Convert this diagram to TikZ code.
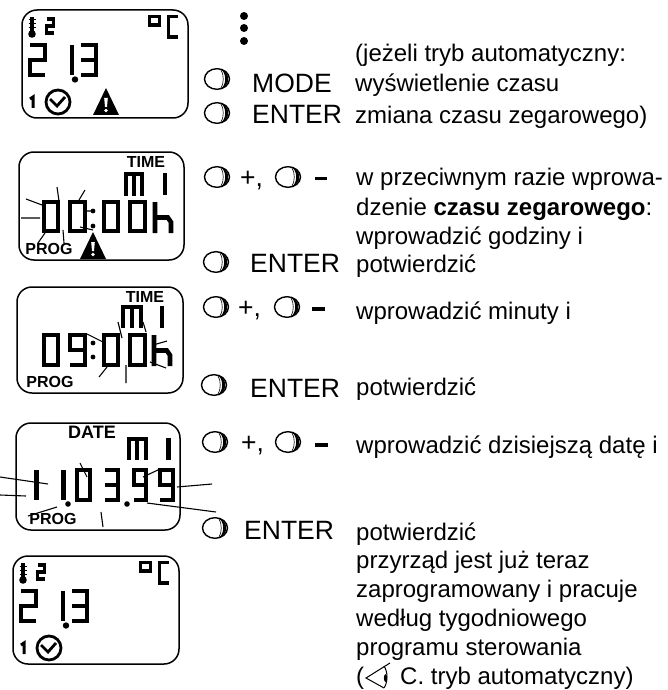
\documentclass[tikz,border=0pt]{standalone}
\usepackage{fontspec}
\setmainfont{Liberation Sans}
\newcommand\tsize{\fontsize{24}{28}\selectfont}
\newcommand\ksize{\fontsize{26.5}{30}\selectfont}
\def\dzero{(0,0)--(1,0)--(1,1)--(0,1)--cycle}
\def\done{(1,0)--(1,1)}
\def\dtwo{(0,0)--(1,0)--(1,.5)--(0,.5)--(0,1)--(1,1)}
\def\dthree{(0,0)--(1,0)--(1,1)--(0,1) (0,.5)--(1,.5)}
\def\dnine{(1,.5)--(0,.5)--(0,0)--(1,0)--(1,1)--(0,1)}
\def\dh{(0,0)--(0,1) (0,.5)--(.8,.5)--(1,.65)--(1,1)}
\def\dm{(0,1)--(0,0)--(1,0)--(1,1) (.5,0)--(.5,1)}
% x, y, w, h of the digit's top-left centre-line box, then the path
\newcommand\lcd[6][4.6]{\begin{scope}[shift={(#2,#3)},x=#4pt,y=-#5pt]\draw[line width=#1pt,line join=miter] #6;\end{scope}}
\newcommand\btn[2]{\begin{scope}[shift={(#1,#2)}]
\draw[line width=1.4pt] (0,0) ellipse (12.5 and 10.3);
\fill (3,-10) .. controls (10,-7) and (10,7) .. (3,10) .. controls (14,8) and (14,-8) .. (3,-10);
\draw[line width=.6pt] (4,-9) .. controls (7,-5) and (7,5) .. (4,9);
\end{scope}}
\newcommand\warn[2]{\begin{scope}[shift={(#1,#2)}]
\fill (0,0)--(13,27)--(-13,27)--cycle;
\fill[white] (-1.8,10)--(1.8,10)--(1,19)--(-1,19)--cycle;
\fill[white] (0,22.5) circle (1.9);
\end{scope}}
\newcommand\tempscreen[2]{\begin{scope}[shift={(#1,#2)}]
\draw[screen] (0,0) rectangle (166,108);
\draw[line width=3.2pt] (10,7)--(10,22);
\fill (10,24) circle (3.8);
\draw[line width=1pt] (6.5,10)--(13.5,10) (6.5,14)--(13.5,14) (6.5,18)--(13.5,18);
\lcd[3.4]{24.5}{9}{7}{14}{\dtwo}
\draw[line width=3.6pt] (127.5,6.5) rectangle (137.5,15);
\draw[line width=3.6pt] (156,6.5)--(146.5,6.5)--(146.5,27)--(156,27);
\lcd{8}{35}{15}{30}{\dtwo}
\lcd{33}{35}{17}{30}{\done}
\fill (53,69.5) circle (3.2);
\lcd{59}{35}{15}{30}{\dthree}
\draw[line width=3pt] (8,89)--(11,87)--(11,98);
\draw[line width=2.8pt] (36,92) circle (12);
\draw[line width=2.8pt] (28,89)--(35,96)--(43,87);
\end{scope}}
\tikzset{
  screen/.style={line width=1.5pt,rounded corners=15pt},
  tick/.style={line width=1.1pt},
  body/.style={anchor=base west,inner sep=0pt,font=\tsize},
  key/.style={anchor=base west,inner sep=0pt,font=\ksize},
  lcdword/.style={inner sep=0pt,font=\bfseries\fontsize{16}{18}\selectfont}
}
\begin{document}
\begin{tikzpicture}[x=1pt,y=-1pt]
\useasboundingbox (0,0) rectangle (667,690);
% screen 1
\tempscreen{22}{10}
\warn{106}{88}
% dots
\fill (244,16) circle (4) (244,28) circle (4) (244,41) circle (4);
% screen 2
\draw[screen] (19,152) rectangle (184,260);
\node[lcdword] (time1) at (146,161.5) {TIME};
\lcd[4]{125.5}{173.5}{16}{22}{\dm}
\lcd{165}{173}{0}{22}{(0,0)--(0,1)}
\lcd{44}{202}{14}{29}{\dzero}
\lcd{70}{202}{15}{29}{\dzero}
\fill (93,211) circle (2.4) (93,226) circle (2.4);
\lcd{104}{202}{14}{29}{\dzero}
\lcd{130}{202}{15}{29}{\dzero}
\lcd{155}{202}{16}{31}{\dh}
\node[lcdword] (prog1) at (49,249) {PROG};
\warn{93}{232}
\draw[tick] (26,199)--(42,205) (21,218)--(40,218) (57,187)--(59,201) (85,190)--(79,200)
 (92,211)--(87,211) (45,233)--(38,243) (63,230)--(64,243) (80,227)--(93,230);
% screen 3
\draw[screen] (17,287) rectangle (183,393);
\node[lcdword] (time2) at (145,296.5) {TIME};
\lcd[4]{123}{307}{18}{21}{\dm}
\lcd{162}{306}{0}{22}{(0,0)--(0,1)}
\lcd{44}{335}{14}{30}{\dzero}
\lcd{70}{335}{15}{30}{\dnine}
\fill (93,343) circle (2.4) (93,357) circle (2.4);
\lcd{104}{335}{14}{30}{\dzero}
\lcd{130}{335}{15}{30}{\dzero}
\lcd{154}{335}{16}{31}{\dh}
\node[lcdword] (prog2) at (50,382) {PROG};
\draw[tick] (87,334)--(105,343) (118,322)--(122,338) (143,322)--(146,332) (167,341)--(153,345)
 (150,362)--(166,368) (107,367)--(99,377) (126,365)--(126,383);
% screen 4
\draw[screen] (16,423) rectangle (180,530);
\node[lcdword,font=\bfseries\fontsize{18}{20}\selectfont] (date) at (92,432) {DATE};
\lcd[4]{128.5}{439}{17}{21}{\dm}
\lcd{168.5}{438}{0}{22}{(0,0)--(0,1)}
\lcd{36.5}{470}{0}{30}{(0,0)--(0,1)}
\lcd{63.5}{470}{0}{30}{(0,0)--(0,1)}
\fill (68,504) circle (2.8);
\lcd{77}{470}{13}{30}{\dzero}
\lcd{105}{470}{13}{30}{\dthree}
\fill (127,504) circle (2.8);
\lcd{134}{470}{12}{30}{\dnine}
\lcd{160}{470}{13}{30}{\dnine}
\node[lcdword] (prog3) at (53,519) {PROG};
\draw[tick] (0,477)--(48,484) (0,495)--(26,496) (80,463)--(87,477) (143,477)--(160,469)
 (177,487)--(212,484) (147,503)--(216,512) (28,516)--(57,507) (101,512)--(103,527);
% screen 5
\tempscreen{13}{556}
% buttons and keys
\btn{217}{79}\node[key] (mode) at (252,93) {MODE};
\btn{217}{113}\node[key] (enter1) at (252,124) {ENTER};
\btn{217}{177}\node[key] (plus1) at (240,186) {+,};
\btn{288}{177}\fill (315,176.5) rectangle (327,180);
\btn{216}{262}\node[key] (enter2) at (250,272) {ENTER};
\btn{216}{307}\node[key] (plus2) at (238,316) {+,};
\btn{287}{307}\fill (312,307) rectangle (325,310.5);
\btn{214}{385}\node[key] (enter3) at (250,397) {ENTER};
\btn{215}{442}\node[key] (plus3) at (241,451) {+,};
\btn{288}{442}\fill (315,443) rectangle (328,446.5);
\btn{215}{528}\node[key] (enter4) at (244,539) {ENTER};
% right-hand text
\node[body] (t1) at (355,62) {(jeżeli tryb automatyczny:};
\node[body] (t2) at (355,92) {wyświetlenie czasu};
\node[body] (t3) at (355,124) {zmiana czasu zegarowego)};
\node[body] (t4) at (356,185) {w przeciwnym razie wprowa-};
\node[body] (t5) at (356,215) {dzenie \textbf{czasu zegarowego}:};
\node[body] (t6) at (356,244) {wprowadzić godziny i};
\node[body] (t7) at (356,272) {potwierdzić};
\node[body] (t8) at (356,319) {wprowadzić minuty i};
\node[body] (t9) at (356,395) {potwierdzić};
\node[body] (t10) at (356,453) {wprowadzić dzisiejszą datę i};
\node[body] (t11) at (356,540) {potwierdzić};
\node[body] (t12) at (356,568) {przyrząd jest już teraz};
\node[body] (t13) at (356,597) {zaprogramowany i pracuje};
\node[body] (t14) at (356,626) {według tygodniowego};
\node[body] (t15) at (356,655) {programu sterowania};
\node[body] (t16) at (356,684) {(};
\node[body] (t17) at (400,684) {C. tryb automatyczny)};
% eye symbol
\draw[line width=1pt] (390,663)--(366,678)--(384,688);
\draw[line width=1pt] (384,666) .. controls (388,672) and (388,682) .. (384,688);
\fill (385.5,678) ellipse (1.6 and 4);
\end{tikzpicture}
\end{document}
